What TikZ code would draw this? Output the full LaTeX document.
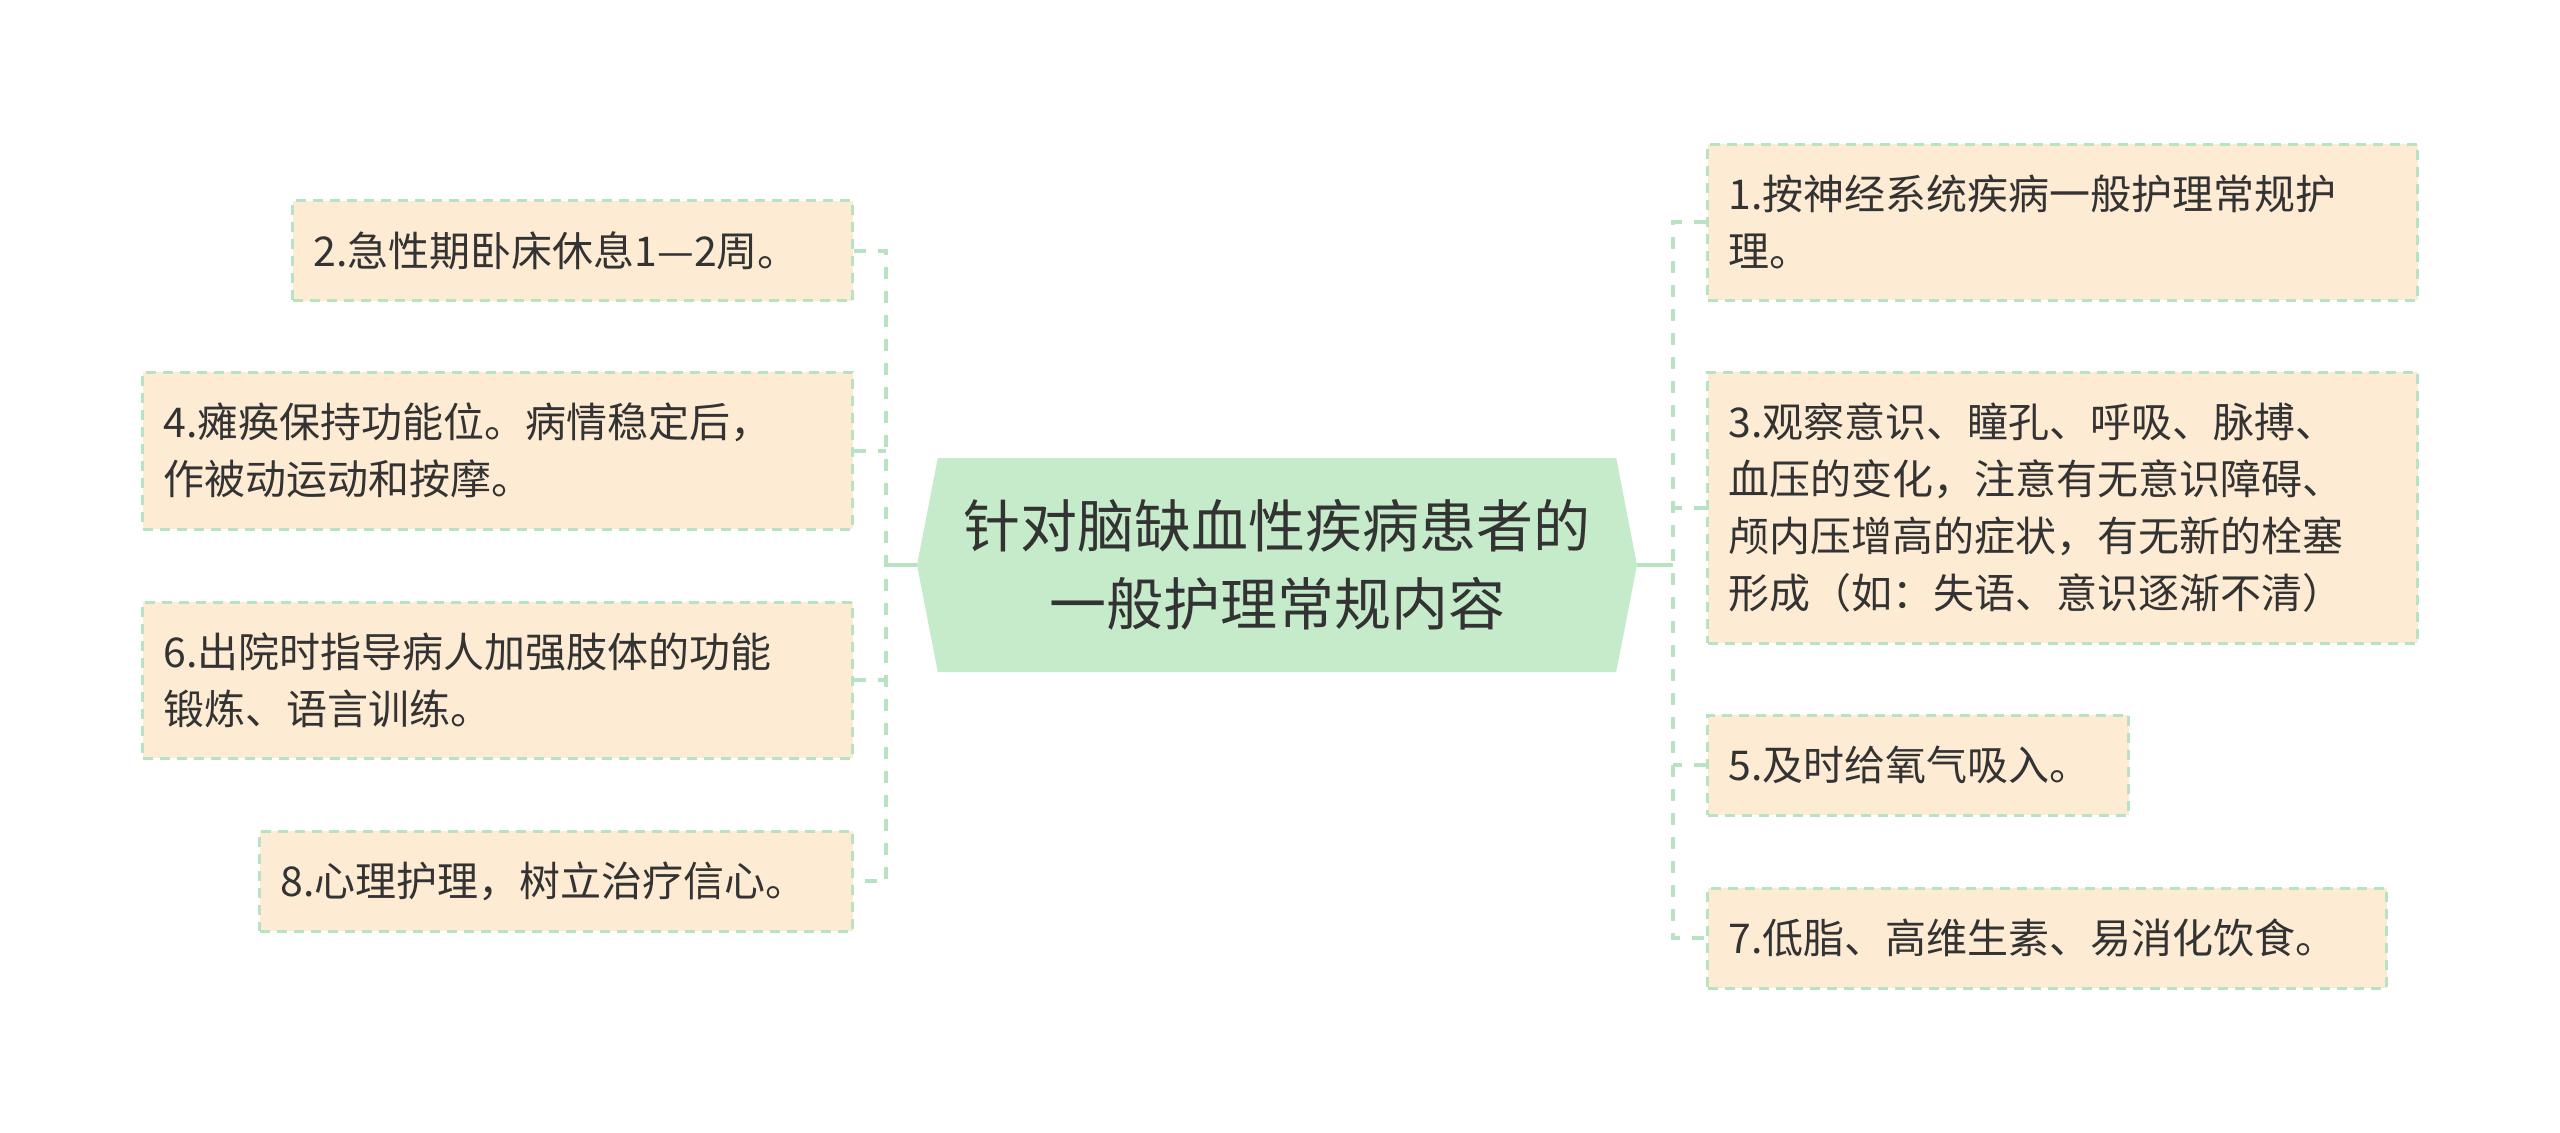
\documentclass[tikz,border=0pt]{standalone}
\usepackage{fontspec}
\setmainfont{Noto Sans CJK SC}
\usetikzlibrary{shapes.symbols}
\definecolor{leaffill}{HTML}{FDEBD3}
\definecolor{leafline}{HTML}{B8E3C2}
\definecolor{rootfill}{HTML}{C6EBCB}
\definecolor{ink}{HTML}{333333}

\begin{document}
\begin{tikzpicture}[x=0.5pt,y=-0.5pt,
    root/.style={shape=signal,signal to=east and west,signal pointer angle=158,
                 fill=rootfill,draw=none,text=ink,align=center,inner sep=0pt,
                 minimum width=360pt,minimum height=107pt,
                 font=\fontsize{28.5}{39}\selectfont},
    leaf/.style={shape=rectangle,fill=leaffill,draw=leafline,line width=1.5pt,
                 dash pattern=on 5pt off 3.5pt,text=ink,align=left,
                 inner xsep=10.5pt,inner ysep=0pt,
                 font=\fontsize{20.5}{28.5}\selectfont},
    bus/.style={draw=leafline,line width=2pt,dash pattern=on 6pt off 6pt},
    trunk/.style={draw=leafline,line width=2pt}]
  \useasboundingbox (0,0) rectangle (2560,1132);

  \node[root] (root) at (1277,565) {针对脑缺血性疾病患者的\\一般护理常规内容};

  % left side
  \node[leaf,anchor=east,text width=259pt,minimum height=50pt] (n2) at (854,250.5) {2.急性期卧床休息1—2周。};
  \node[leaf,anchor=east,text width=334pt,minimum height=78.5pt] (n4) at (854,450.5) {4.瘫痪保持功能位。病情稳定后，\\作被动运动和按摩。};
  \node[leaf,anchor=east,text width=334pt,minimum height=78pt] (n6) at (854,680) {6.出院时指导病人加强肢体的功能\\锻炼、语言训练。};
  \node[leaf,anchor=east,text width=275.5pt,minimum height=50pt] (n8) at (854,881) {8.心理护理，树立治疗信心。};

  % right side
  \node[leaf,anchor=west,text width=334pt,minimum height=78pt] (n1) at (1706,222) {1.按神经系统疾病一般护理常规护\\理。};
  \node[leaf,anchor=west,text width=334pt,minimum height=135.5pt] (n3) at (1706,507.5) {3.观察意识、瞳孔、呼吸、脉搏、\\血压的变化，注意有无意识障碍、\\颅内压增高的症状，有无新的栓塞\\形成（如：失语、意识逐渐不清）};
  \node[leaf,anchor=west,text width=189.5pt,minimum height=50pt] (n5) at (1706,765) {5.及时给氧气吸入。};
  \node[leaf,anchor=west,text width=318.5pt,minimum height=50pt] (n7) at (1706,938) {7.低脂、高维生素、易消化饮食。};

  \coordinate (lbus) at (886,565);
  \coordinate (rbus) at (1673,565);
  \draw[trunk] (root.west) -- (lbus);
  \draw[trunk] (root.east) -- (rbus);
  \draw[bus] (n2.east) -| (lbus) |- (n8.east);
  \draw[bus] (n4.east) -- (n4.east -| lbus);
  \draw[bus] (n6.east) -- (n6.east -| lbus);
  \draw[bus] (n1.west) -| (rbus) |- (n7.west);
  \draw[bus] (n3.west) -- (n3.west -| rbus);
  \draw[bus] (n5.west) -- (n5.west -| rbus);
\end{tikzpicture}
\end{document}
